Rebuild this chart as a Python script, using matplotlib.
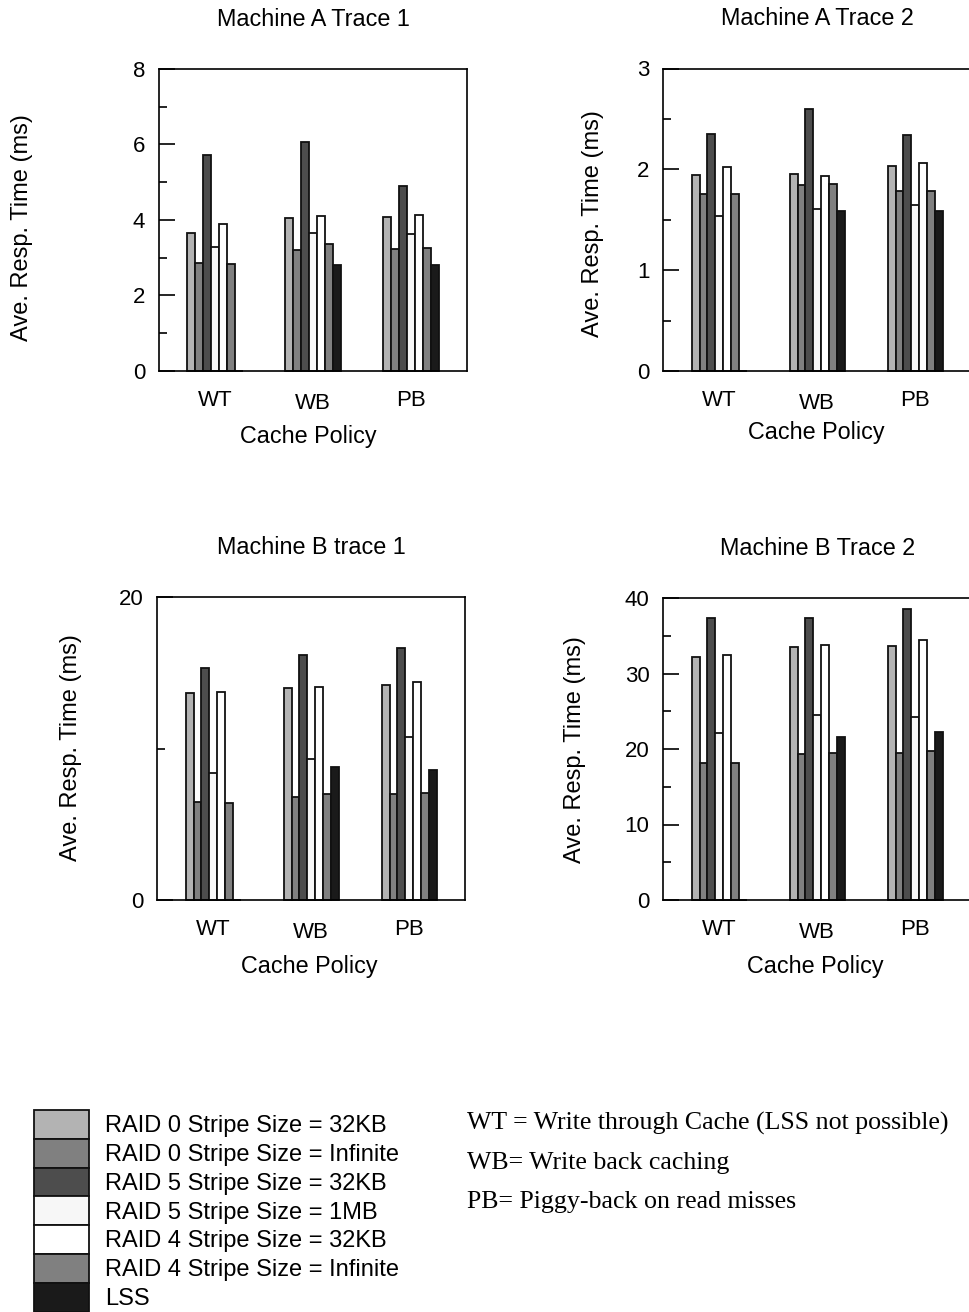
import matplotlib
matplotlib.use("Agg")
import matplotlib.pyplot as plt
import numpy as np
from matplotlib.ticker import MultipleLocator

# ---------------- data ----------------
policies = ["WT", "WB", "PB"]
series_names = [
    "RAID 0 Stripe Size = 32KB",
    "RAID 0 Stripe Size = Infinite",
    "RAID 5 Stripe Size = 32KB",
    "RAID 5 Stripe Size = 1MB",
    "RAID 4 Stripe Size = 32KB",
    "RAID 4 Stripe Size = Infinite",
    "LSS",
]
series_colors = ["#b3b3b3", "#808080", "#4d4d4d", "#f7f7f7", "#ffffff", "#808080", "#1a1a1a"]

# rows = series (order above), columns = WT, WB, PB   (ms)
machine_a_trace1 = [
    [3.65, 4.05, 4.09],
    [2.86, 3.20, 3.24],
    [5.73, 6.07, 4.91],
    [3.28, 3.65, 3.63],
    [3.89, 4.11, 4.13],
    [2.84, 3.36, 3.25],
    [0.00, 2.81, 2.82],
]
machine_a_trace2 = [
    [1.94, 1.95, 2.03],
    [1.76, 1.84, 1.79],
    [2.35, 2.60, 2.34],
    [1.54, 1.61, 1.65],
    [2.02, 1.93, 2.06],
    [1.76, 1.85, 1.79],
    [0.00, 1.59, 1.59],
]
machine_b_trace1 = [
    [13.70, 13.99, 14.21],
    [6.45, 6.83, 6.99],
    [15.35, 16.19, 16.66],
    [8.41, 9.34, 10.79],
    [13.75, 14.06, 14.43],
    [6.39, 6.99, 7.07],
    [0.00, 8.77, 8.57],
]
machine_b_trace2 = [
    [32.2, 33.5, 33.7],
    [18.2, 19.3, 19.5],
    [37.3, 37.3, 38.5],
    [22.1, 24.5, 24.3],
    [32.4, 33.8, 34.4],
    [18.1, 19.5, 19.8],
    [0.0, 21.6, 22.2],
]

titles = ["Machine A Trace 1", "Machine A Trace 2", "Machine B trace 1", "Machine B Trace 2"]
y_label = "Ave. Resp. Time (ms)"
x_label = "Cache Policy"
notes = [
    "WT = Write through Cache (LSS not possible)",
    "WB= Write back caching",
    "PB= Piggy-back on read misses",
]

# ---------------- layout ----------------
W, H = 969, 1312
fig = plt.figure(figsize=(W / 100, H / 100), dpi=100)
plt.rcParams["font.family"] = ["Liberation Sans", "DejaVu Sans"]


def px_axes(left, top, right, bottom):
    return fig.add_axes([left / W, 1 - bottom / H, (right - left) / W, (bottom - top) / H])


panels = [
    # data, title, rect(l,t,r,b), ymax, major, minor, ylabel center, xlabel (center x, top y)
    (machine_a_trace1, titles[0], (159, 69, 467, 371), 8, 2, 1, (22.5, 228), (308, 425)),
    (machine_a_trace2, titles[1], (663.3, 68.5, 971.3, 371), 3, 1, 0.5, (593, 223.5), (816.5, 421)),
    (machine_b_trace1, titles[2], (157.3, 597.3, 465.3, 900), 20, 20, 10, (71, 748), (309, 955)),
    (machine_b_trace2, titles[3], (663.3, 598, 971.3, 900), 40, 10, 5, (575, 750), (815, 955)),
]

bar_w = 0.0806
xpos = np.arange(1, len(policies) + 1)

for data, title, rect, ymax, major, minor, ylc, xlc in panels:
    l, t, r, b = rect
    ax = px_axes(l, t, r, b)
    wpx, hpx = r - l, b - t
    n = len(data)
    for i, vals in enumerate(data):
        ax.bar(xpos + (i - (n - 1) / 2) * bar_w, vals, width=bar_w,
               color=series_colors[i], edgecolor="#111111", linewidth=1.3,
               clip_on=False, zorder=2)
    ax.set_xlim(0.429, 3.571)
    ax.set_ylim(0, ymax)
    ax.yaxis.set_major_locator(MultipleLocator(major))
    ax.yaxis.set_minor_locator(MultipleLocator(minor))
    ax.yaxis.set_major_formatter(matplotlib.ticker.FuncFormatter(lambda v, p: f"{v:g}"))
    ax.set_xticks(xpos)
    ax.set_xticklabels(policies)
    ax.tick_params(axis="y", which="major", direction="in", length=11.5, width=1.2,
                   labelsize=16, pad=10, right=False)
    ax.tick_params(axis="y", which="minor", direction="in", length=5.8, width=1.2, right=False)
    ax.tick_params(axis="x", which="both", length=0, labelsize=16, pad=13.5, top=False)
    for s in ax.spines.values():
        s.set_linewidth(1.2)
    # WB tick label sits slightly lower in the reference
    ax.xaxis.get_major_ticks()[1].label1.set_y(-3.3 / hpx)
    ax.set_title(title, fontsize=16.8, pad=31)
    ax.set_ylabel(y_label, fontsize=17, va="center", ha="center")
    ax.yaxis.set_label_coords((ylc[0] - l) / wpx, (b - ylc[1]) / hpx)
    ax.set_xlabel(x_label, fontsize=16.8)
    ax.xaxis.set_label_coords((xlc[0] - l) / wpx, (b - xlc[1]) / hpx)

# ---------------- legend ----------------
lax = px_axes(34.3, 1110, 89.3, 1311.7)
lax.set_xlim(0, 1)
lax.set_ylim(len(series_names), 0)
lax.axis("off")
rows = np.arange(len(series_names))
lax.barh(rows, 1, height=1, left=0, align="edge", color=series_colors,
         edgecolor="#111111", linewidth=1.3, clip_on=False)
for i, name in enumerate(series_names):
    lax.text((105 - 34.3) / 55, i + 0.5 + 7.8 / 28.8, name, fontsize=17,
             va="baseline", ha="left", clip_on=False)

# ---------------- notes ----------------
for txt, yb in zip(notes, [1129.3, 1169.3, 1208.3]):
    fig.text(466.7 / W, 1 - yb / H, txt, fontsize=18.6, va="baseline", ha="left",
             family=["Liberation Serif", "DejaVu Serif"])

fig.savefig("out.png", dpi=100)
